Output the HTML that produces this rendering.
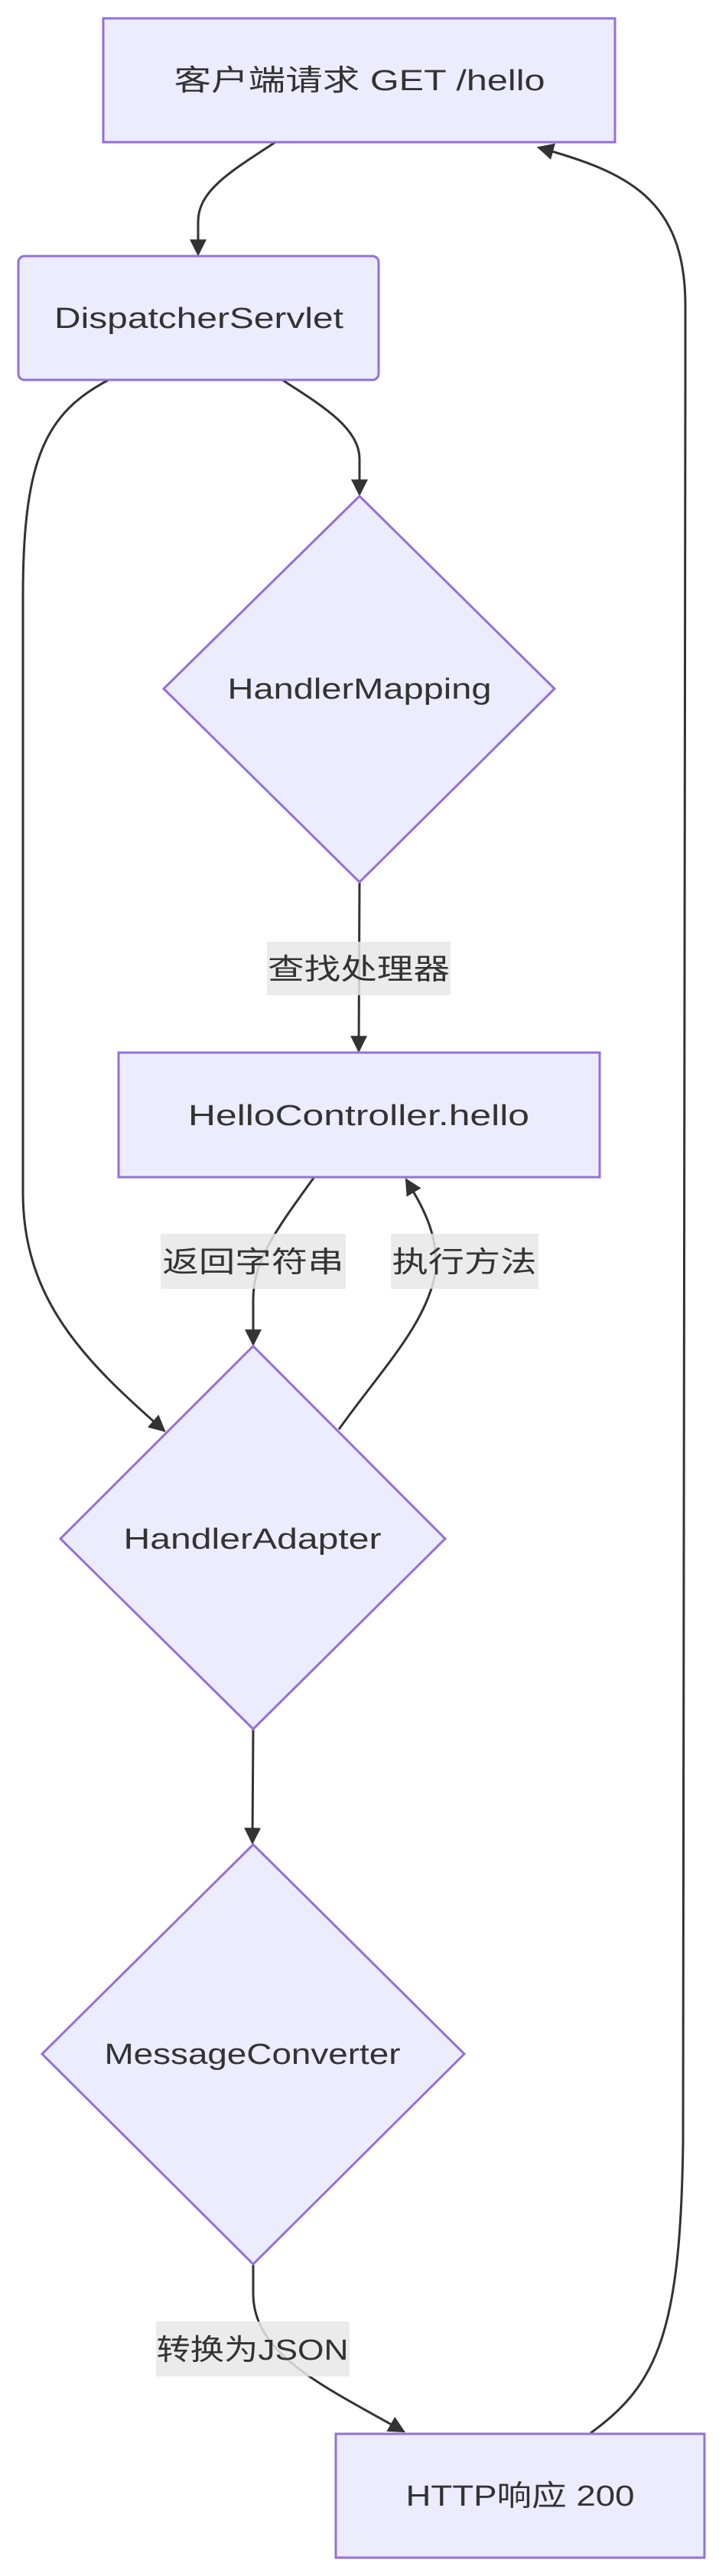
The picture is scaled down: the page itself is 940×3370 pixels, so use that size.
<!DOCTYPE html>
<html><head><meta charset="utf-8"><style>html,body{margin:0;padding:0;background:#fff}svg{display:block}</style></head>
<body>
<svg width="940" height="3370" viewBox="0 0 940 3370" xmlns="http://www.w3.org/2000/svg">
<defs>
<marker id="b" viewBox="0 0 10 10" refX="9" refY="5" markerWidth="22" markerHeight="22" markerUnits="userSpaceOnUse" orient="auto"><path d="M0,0L10,5L0,10z" fill="#333"/></marker>
</defs>
<g fill="none" stroke="#333" stroke-width="3">
<path d="M360,186 C300,225 259,250 259,290 L259,333" marker-end="url(#b)"/>
<path d="M369,497 C420,530 470,560 470,600 L470,647" marker-end="url(#b)"/>
<path d="M142,497 C60,540 30,600 30,780 L30,1560 C30,1700 110,1780 215,1872" marker-end="url(#b)"/>
<path d="M470,1154 L469,1375" marker-end="url(#b)"/>
<path d="M410,1541 C360,1610 331,1650 331,1700 L331,1759" marker-end="url(#b)"/>
<path d="M443,1870 C500,1790 560,1730 570,1660 C572,1610 550,1575 531,1543" marker-end="url(#b)"/>
<path d="M331,2262 L330,2411" marker-end="url(#b)"/>
<path d="M331,2962 L331,3000 C331,3080 420,3120 528,3181" marker-end="url(#b)"/>
<path d="M772,3183 C860,3120 890,3050 893,2800 L896,500 L896,400 C896,260 820,225 704,193" marker-end="url(#b)"/>
</g>
<g fill="#ECECFF" stroke="#9370DB" stroke-width="3">
<rect x="135" y="24" width="669" height="162"/>
<rect x="24" y="335" width="471" height="162" rx="8"/>
<polygon points="470,649 725,901 470,1154 214,901"/>
<rect x="155" y="1377" width="629" height="163"/>
<polygon points="331,1761 582,2013 331,2262 79,2013"/>
<polygon points="331,2413 607,2687 331,2962 55,2687"/>
<rect x="439" y="3184" width="482" height="162"/>
</g>
<g fill="rgba(232,232,232,0.85)">
<rect x="349" y="1232" width="240" height="70"/>
<rect x="210" y="1614" width="242" height="72"/>
<rect x="511" y="1614" width="193" height="72"/>
<rect x="204" y="3037" width="253" height="72"/>
</g>
<g font-family="'Liberation Sans','Noto Sans CJK SC',sans-serif" font-size="38" fill="#333" text-anchor="middle">
<text x="470" y="118" textLength="485" lengthAdjust="spacingAndGlyphs">客户端请求 GET /hello</text>
<text x="260" y="429" textLength="378" lengthAdjust="spacingAndGlyphs">DispatcherServlet</text>
<text x="470" y="914" textLength="345" lengthAdjust="spacingAndGlyphs">HandlerMapping</text>
<text x="469" y="1281" textLength="238" lengthAdjust="spacingAndGlyphs">查找处理器</text>
<text x="469" y="1472" textLength="446" lengthAdjust="spacingAndGlyphs">HelloController.hello</text>
<text x="331" y="1664" textLength="237" lengthAdjust="spacingAndGlyphs">返回字符串</text>
<text x="607" y="1664" textLength="189" lengthAdjust="spacingAndGlyphs">执行方法</text>
<text x="330" y="2026" textLength="337" lengthAdjust="spacingAndGlyphs">HandlerAdapter</text>
<text x="330" y="2700" textLength="387" lengthAdjust="spacingAndGlyphs">MessageConverter</text>
<text x="330" y="3087" textLength="251" lengthAdjust="spacingAndGlyphs">转换为JSON</text>
<text x="680" y="3278" textLength="299" lengthAdjust="spacingAndGlyphs">HTTP响应 200</text>
</g>
</svg>
</body></html>
